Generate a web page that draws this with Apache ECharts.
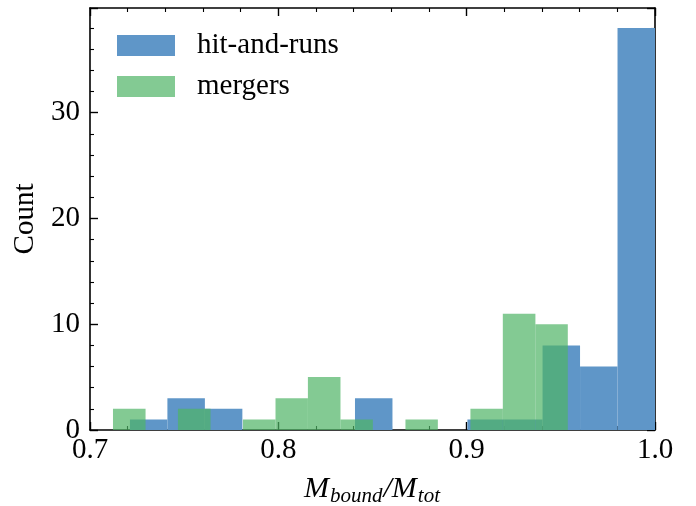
<!DOCTYPE html>
<html><head><meta charset="utf-8">
<script src="https://cdn.jsdelivr.net/npm/echarts@6/dist/echarts.min.js"></script>
<style>html,body{margin:0;padding:0;background:#fff}#c{width:696px;height:506px}</style>
</head><body><div id="c"></div>
<script>
// Bin edges and counts
const hitEdges = [0.7212, 0.7411, 0.7610, 0.7809, 0.8008, 0.8208, 0.8407, 0.8606, 0.8805, 0.9004, 0.9203, 0.9403, 0.9602, 0.9801, 1.0];
const hitCounts = [1, 3, 2, 0, 0, 0, 3, 0, 0, 1, 1, 8, 6, 38];
const mergerEdges = [0.7122, 0.7295, 0.7467, 0.7640, 0.7812, 0.7985, 0.8157, 0.8330, 0.8502, 0.8675, 0.8847, 0.9020, 0.9192, 0.9365, 0.9537];
const mergerCounts = [2, 0, 2, 0, 1, 3, 5, 1, 0, 1, 0, 2, 11, 10];
const xTicks = [0.7, 0.8, 0.9, 1.0];
const yTicks = [0, 10, 20, 30];
const seriesNames = ['hit-and-runs', 'mergers'];

const FONT = 'Liberation Serif';
const FS = 29;
const toBins = (edges, counts) => counts.map((c, i) => [edges[i], edges[i + 1], c]);

function renderBar(params, api) {
  const c = api.value(2);
  if (!c) return null;
  const p0 = api.coord([api.value(0), 0]);
  const p1 = api.coord([api.value(1), c]);
  return {
    type: 'rect',
    shape: { x: p0[0], y: p1[1], width: p1[0] - p0[0], height: p0[1] - p1[1] },
    style: { fill: api.visual('color') }
  };
}

const axisLineStyle = { show: true, onZero: false, lineStyle: { color: '#000', width: 1.6 } };
const tickCommon = { show: true, inside: true, length: 8, lineStyle: { color: '#000', width: 1.4 } };
const minorCommon = { show: true, splitNumber: 5, length: 4, lineStyle: { color: '#000', width: 1.1 } };

const chart = echarts.init(document.getElementById('c'), null, { renderer: 'canvas' });
chart.setOption({
  animation: false,
  backgroundColor: '#fff',
  grid: { left: 90, right: 41, top: 8, bottom: 76, containLabel: false, outerBoundsMode: 'none' },
  legend: {
    orient: 'vertical', left: 117, top: 31, padding: 0,
    itemWidth: 58, itemHeight: 21, itemGap: 12,
    icon: 'rect',
    textStyle: { fontFamily: FONT, fontSize: FS, color: '#000', padding: [0, 0, 0, 17] },
    data: seriesNames
  },
  xAxis: [{
    type: 'value', min: xTicks[0], max: xTicks[xTicks.length - 1], interval: 0.1,
    axisLine: axisLineStyle, axisTick: tickCommon, minorTick: minorCommon,
    splitLine: { show: false },
    axisLabel: { fontFamily: FONT, fontSize: FS, color: '#000', margin: 6, formatter: v => v.toFixed(1) },
    name: '{m|M}{s|bound}{m|/M}{s|tot}', nameLocation: 'middle', nameGap: 44,
    nameTextStyle: {
      rich: {
        m: { fontFamily: FONT, fontStyle: 'italic', fontSize: 30, color: '#000', lineHeight: 30, verticalAlign: 'middle' },
        s: { fontFamily: FONT, fontStyle: 'italic', fontSize: 21, color: '#000', lineHeight: 20, padding: [14, 1, 0, 1], verticalAlign: 'middle' }
      }
    }
  }, {
    type: 'value', position: 'top', min: xTicks[0], max: xTicks[xTicks.length - 1], interval: 0.1,
    axisLine: axisLineStyle, axisTick: tickCommon, minorTick: minorCommon,
    splitLine: { show: false }, axisLabel: { show: false }
  }],
  yAxis: [{
    type: 'value', min: 0, max: 39.9, interval: 10,
    axisLine: axisLineStyle, axisTick: tickCommon, minorTick: minorCommon,
    splitLine: { show: false },
    axisLabel: { fontFamily: FONT, fontSize: FS, color: '#000', margin: 10, showMaxLabel: false },
    name: 'Count', nameLocation: 'middle', nameGap: 50, nameRotate: 90,
    nameTextStyle: { fontFamily: FONT, fontSize: FS, color: '#000' }
  }, {
    type: 'value', position: 'right', min: 0, max: 39.9, interval: 10,
    axisLine: axisLineStyle, axisTick: tickCommon, minorTick: minorCommon,
    splitLine: { show: false }, axisLabel: { show: false }
  }],
  series: [{
    name: seriesNames[0], type: 'custom', renderItem: renderBar,
    xAxisIndex: 0, yAxisIndex: 0,
    itemStyle: { color: 'rgb(95,150,200)' },
    encode: { x: [0, 1], y: 2 },
    data: toBins(hitEdges, hitCounts)
  }, {
    name: seriesNames[1], type: 'custom', renderItem: renderBar,
    xAxisIndex: 0, yAxisIndex: 0,
    itemStyle: { color: 'rgba(79,179,101,0.7)' },
    encode: { x: [0, 1], y: 2 },
    data: toBins(mergerEdges, mergerCounts)
  }]
});
</script></body></html>
